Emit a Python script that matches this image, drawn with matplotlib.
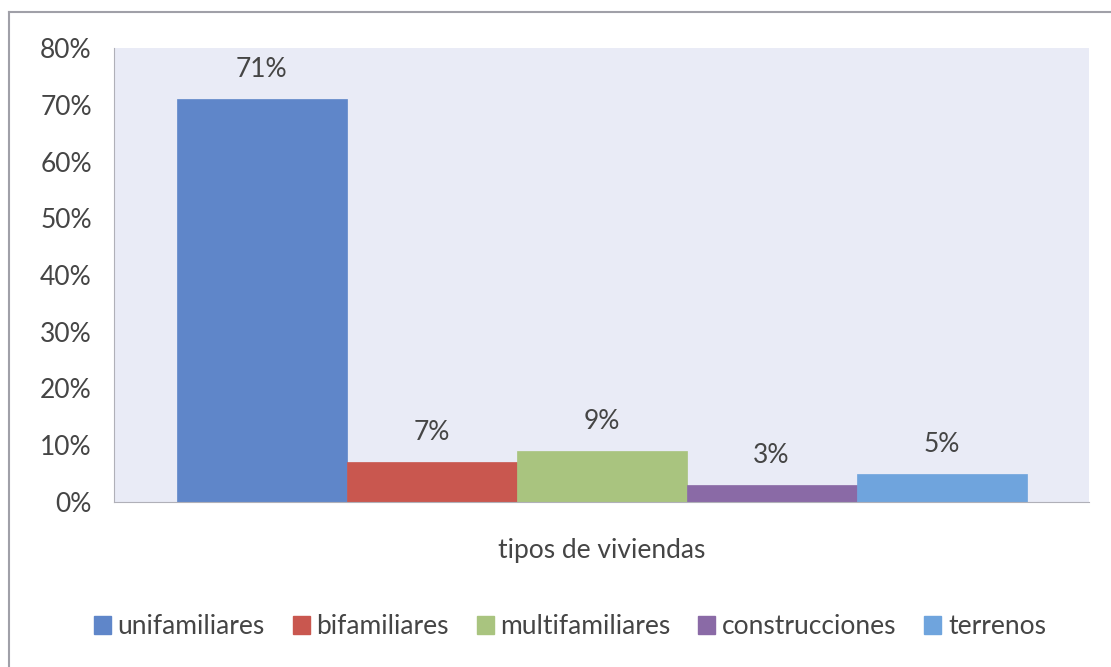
import matplotlib
matplotlib.use("Agg")
import matplotlib.pyplot as plt
from matplotlib.patches import Patch
from matplotlib.lines import Line2D
from matplotlib.ticker import FuncFormatter

categories = ["unifamiliares", "bifamiliares", "multifamiliares", "construcciones", "terrenos"]
values = [71, 7, 9, 3, 5]
labels = ["71%", "7%", "9%", "3%", "5%"]
colors = ["#5F86C9", "#C9574F", "#A9C47F", "#8A6AA6", "#6FA4DD"]
yticks = [0, 10, 20, 30, 40, 50, 60, 70, 80]
xlabel = "tipos de viviendas"

plt.rcParams['font.family'] = ['Lato', 'DejaVu Sans']
text_color = "#454545"

fig = plt.figure(figsize=(11.11, 6.67), dpi=100)
fig.patch.set_facecolor("white")

# outer chart frame
fig.add_artist(Line2D([9/1111, 1111/1111], [1-12/667, 1-12/667], transform=fig.transFigure,
                      color="#A0A0A8", lw=1.5))
fig.add_artist(Line2D([9/1111, 9/1111], [1-12/667, 0], transform=fig.transFigure,
                      color="#A0A0A8", lw=1.5))

ax = fig.add_axes([114/1111, 1-502/667, (1089-114)/1111, (502-48)/667])
ax.set_facecolor("#E9EBF6")

n = len(values)
bw = 850/975/n
start = -0.5 + (1 - bw*n)/2 + bw/2
for i, (c, v, lab, col) in enumerate(zip(categories, values, labels, colors)):
    x = start + i*bw
    ax.bar(x, v, width=bw, color=col, edgecolor=col, linewidth=0.5, label=c)
    ax.text(x, v + 3.0, lab, ha="center", va="bottom", fontsize=19, color=text_color)

ax.set_xlim(-0.5, 0.5)
ax.set_ylim(0, 80)
ax.set_yticks(yticks)
ax.yaxis.set_major_formatter(FuncFormatter(lambda v, p: f"{int(v)}%"))
ax.tick_params(axis="y", length=0, pad=16, labelsize=19, labelcolor=text_color)
ax.set_xticks([])
for s in ["top", "right"]:
    ax.spines[s].set_visible(False)
ax.spines["left"].set_color("#B0B0B8")
ax.spines["bottom"].set_color("#B0B0B8")

ax.set_xlabel(xlabel, fontsize=19, color=text_color, labelpad=26)

handles = [Patch(facecolor=col, edgecolor=col) for col in colors]
fig.legend(handles, categories, loc="center", bbox_to_anchor=(570/1111, 1-627/667),
           ncol=5, frameon=False, fontsize=19, handlelength=0.65, handleheight=0.65,
           handletextpad=0.25, columnspacing=1.05, labelcolor=text_color)

fig.savefig("out.png", dpi=100)
